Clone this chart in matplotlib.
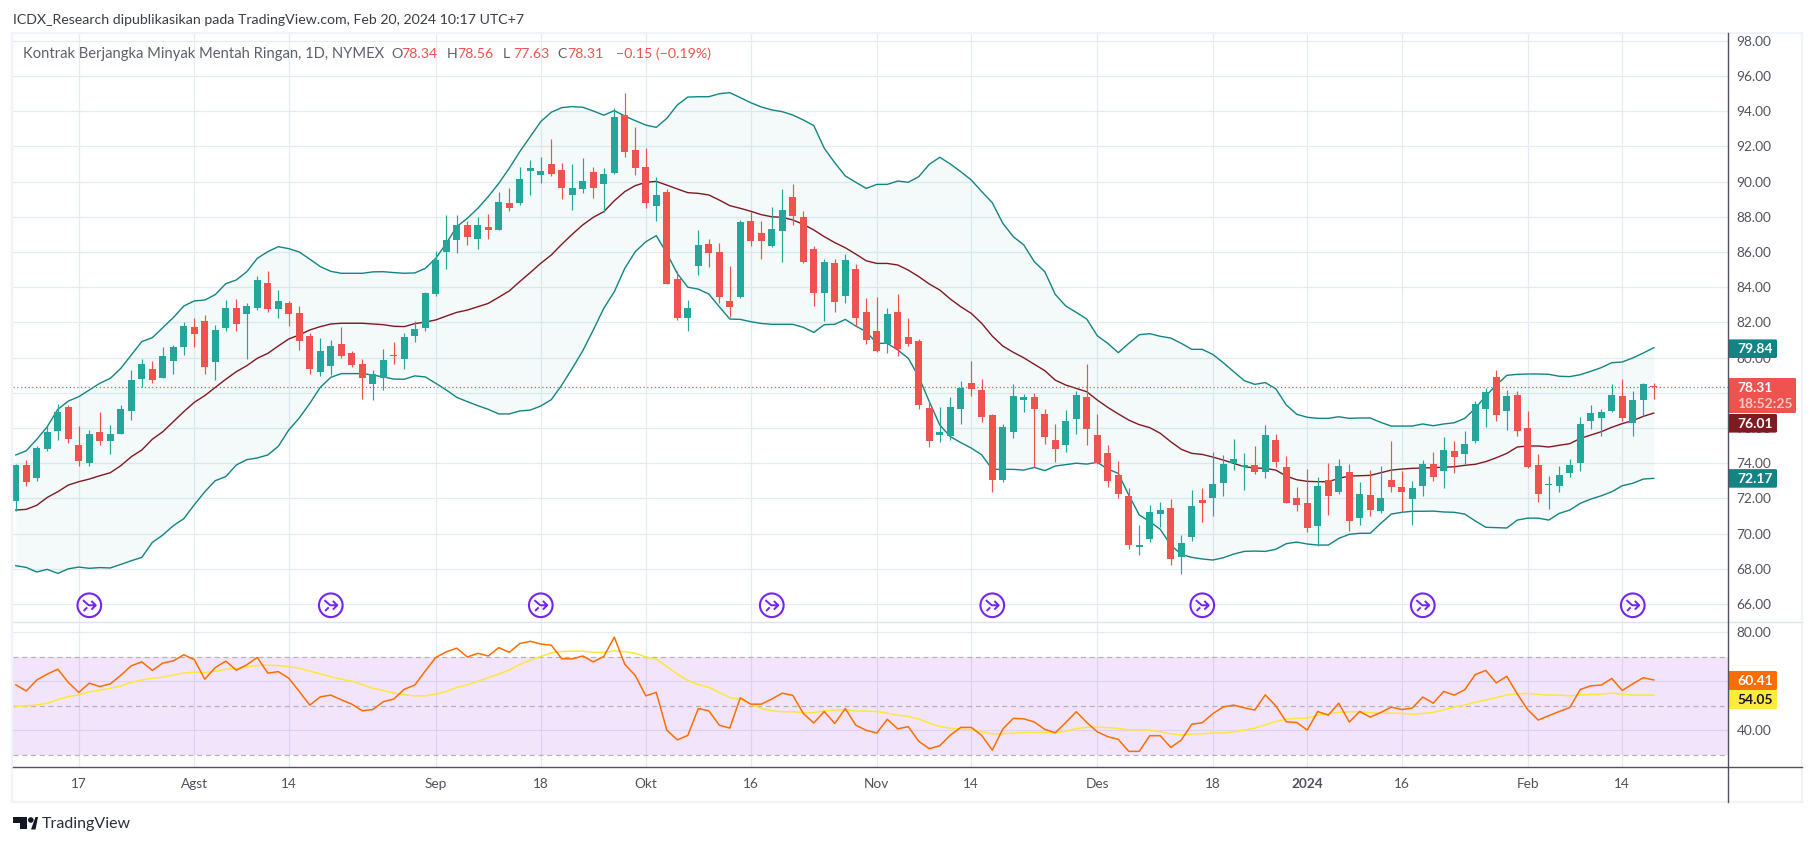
import matplotlib
matplotlib.use("Agg")
import matplotlib.pyplot as plt
from matplotlib.patches import Rectangle, FancyBboxPatch, Circle, Polygon
from matplotlib.path import Path

# ── data, one bar per trading day
opens = [71.87,73.90,73.18,74.81,75.85,77.19,75.03,74.03,75.77,75.26,
         75.66,76.97,78.79,79.35,78.84,79.81,80.60,81.74,82.08,79.75,
         81.68,82.82,82.48,82.82,84.24,82.76,83.10,82.54,81.23,79.18,
         79.52,80.77,80.26,79.64,78.50,78.84,80.15,79.92,81.23,81.68,
         83.62,86.00,86.68,87.54,86.74,87.42,87.25,88.79,88.79,90.60,
         90.38,91.00,90.66,89.24,89.58,90.55,89.87,90.49,93.78,91.79,
         90.83,88.61,89.41,84.46,82.25,85.20,86.45,86.00,83.21,83.44,
         87.76,87.08,86.34,87.19,89.12,87.99,86.17,83.67,85.37,83.50,
         85.03,82.59,81.51,80.77,82.59,81.17,80.94,77.14,75.60,75.55,
         77.08,78.56,78.16,76.74,73.05,75.77,77.59,77.76,76.80,75.32,
         75.03,76.51,77.76,75.60,74.58,73.33,72.14,69.24,69.69,71.11,
         71.45,68.67,69.81,71.91,72.02,72.88,74.01,73.78,73.90,73.50,
         75.32,73.78,72.02,71.74,70.43,73.05,72.36,73.50,70.86,72.19,
         71.28,73.05,72.65,71.97,72.70,73.95,73.56,74.69,74.52,75.26,
         77.08,78.90,76.97,77.87,76.00,73.90,72.76,72.70,73.44,74.01,
         76.40,76.57,76.97,77.82,76.28,77.59,78.34]
highs = [73.96,74.18,74.98,76.13,77.36,77.29,76.11,75.89,76.91,76.17,
         77.29,79.30,79.92,79.81,80.60,80.72,82.02,82.25,82.42,81.85,
         83.27,83.33,83.10,84.64,84.92,83.84,83.22,82.93,81.38,81.11,
         81.00,81.74,80.38,79.92,79.30,80.49,80.89,81.40,82.08,83.73,
         86.06,88.10,88.10,87.76,87.99,88.16,89.41,89.64,90.83,91.23,
         91.40,92.42,91.06,91.00,91.34,90.83,90.77,94.16,95.03,93.10,
         91.91,90.26,89.58,84.92,83.27,87.25,86.74,86.51,85.20,87.82,
         88.27,87.76,88.55,89.58,89.86,88.33,86.34,85.60,85.60,85.88,
         85.32,83.38,83.44,82.82,83.61,82.25,81.06,77.53,77.19,77.76,
         78.67,79.81,78.78,76.80,76.23,78.50,77.93,77.99,77.08,76.23,
         77.02,78.10,79.64,76.80,75.03,74.12,72.59,70.49,71.62,71.80,
         71.97,69.92,72.48,72.59,74.64,74.47,75.37,74.58,74.98,76.17,
         75.66,74.41,72.65,73.67,73.22,74.01,74.24,73.95,72.93,73.61,
         73.84,75.26,73.56,72.99,74.18,74.64,75.49,75.26,75.83,77.54,
         78.27,79.30,78.16,78.10,76.97,74.52,73.27,73.84,74.24,76.63,
         77.31,77.08,78.50,78.78,78.10,78.56,78.56]
lows = [71.28,72.72,73.01,74.69,75.32,75.15,73.86,73.86,75.03,74.52,
        75.66,76.46,78.33,78.58,78.84,79.07,80.15,80.60,79.07,78.73,
        81.51,81.51,79.92,82.71,82.59,82.25,81.80,80.43,79.07,78.96,
        79.01,79.98,79.47,77.65,77.59,78.16,79.64,79.35,80.89,81.51,
        83.50,85.04,85.95,86.40,86.17,86.74,87.25,88.33,88.67,89.24,
        89.92,90.32,89.01,88.39,89.35,89.07,88.27,90.43,91.39,90.37,
        88.50,87.76,84.18,82.13,81.51,84.69,85.15,83.10,82.30,83.38,
        86.34,85.60,86.28,85.43,87.53,85.37,82.93,82.08,82.59,83.10,
        81.79,80.77,80.32,80.26,80.09,80.66,77.08,74.92,75.20,75.32,
        76.23,77.82,76.34,72.36,72.93,75.43,76.91,73.78,75.09,74.07,
        74.64,75.66,75.03,73.95,72.65,72.02,69.12,68.78,69.52,70.37,
        68.22,67.70,69.58,70.66,71.00,72.14,73.61,72.48,73.39,73.16,
        73.78,71.74,71.28,70.09,69.30,71.06,72.25,70.15,70.49,71.00,
        71.17,72.36,71.23,70.49,72.14,72.99,72.59,73.44,73.95,75.15,
        76.06,76.40,75.89,75.55,73.73,71.80,71.40,72.36,73.22,73.56,
        75.94,75.55,76.91,76.40,75.55,76.68,77.63]
closes = [73.90,72.95,74.86,75.77,76.91,75.39,74.14,75.66,75.26,75.66,
          77.08,78.73,79.64,78.73,80.09,80.60,81.80,81.34,79.47,81.57,
          82.82,81.91,82.93,84.41,82.76,83.22,82.48,80.95,79.35,80.38,
          80.66,80.09,79.58,78.84,79.07,79.86,80.09,81.17,81.63,83.67,
          85.55,86.68,87.54,86.85,87.54,87.25,88.84,88.50,90.15,90.77,
          90.60,90.43,89.64,89.64,90.04,89.64,90.43,93.67,91.68,90.77,
          88.78,89.24,84.18,82.25,82.82,86.40,85.94,83.44,82.87,87.70,
          86.62,86.62,87.30,88.38,88.04,85.43,83.67,85.43,83.16,85.54,
          82.25,81.00,80.37,82.47,80.49,80.77,77.31,75.26,75.77,77.19,
          78.27,78.22,76.62,73.05,76.06,77.82,77.76,77.08,75.49,74.81,
          76.40,77.87,75.94,74.01,72.99,72.25,69.35,69.35,71.23,71.34,
          68.56,69.47,71.57,71.74,72.82,73.95,74.24,73.90,73.50,75.60,
          74.07,71.74,71.62,70.32,72.70,72.14,73.84,70.72,72.25,71.34,
          72.02,72.65,72.36,72.59,73.95,73.22,74.75,74.35,75.09,77.36,
          78.05,76.74,77.82,75.83,73.78,72.25,72.82,73.33,73.90,76.23,
          76.85,76.91,77.87,76.57,77.59,78.50,78.31]

bb_upper = [74.47,74.71,75.36,76.08,77.06,77.53,77.78,78.16,78.54,78.82,
            79.39,80.15,80.91,81.13,81.70,82.27,82.93,83.22,83.27,83.58,
            84.20,84.41,84.88,85.64,86.02,86.30,86.19,86.00,85.59,85.17,
            84.90,84.79,84.79,84.79,84.87,84.88,84.83,84.79,84.81,85.07,
            85.64,86.49,87.44,87.91,88.48,89.15,89.90,90.76,91.70,92.55,
            93.41,93.94,94.20,94.26,94.22,94.01,93.77,94.03,93.72,93.46,
            93.21,93.08,93.59,94.35,94.80,94.82,94.82,94.99,95.05,94.77,
            94.48,94.24,94.07,93.97,93.78,93.50,93.18,91.89,91.07,90.32,
            89.96,89.61,89.84,89.84,90.03,89.96,90.28,90.98,91.38,91.00,
            90.56,90.09,89.43,88.80,87.63,86.87,86.40,85.45,84.88,83.59,
            82.93,82.57,82.19,81.24,80.81,80.28,80.81,81.30,81.36,81.21,
            81.11,80.81,80.47,80.47,80.18,79.71,79.20,78.69,78.48,78.58,
            78.23,77.31,76.78,76.61,76.55,76.55,76.64,76.55,76.57,76.57,
            76.32,76.11,76.11,76.11,76.23,76.13,76.23,76.30,76.55,77.12,
            77.82,78.44,78.99,79.05,79.07,79.07,79.05,78.94,78.92,79.03,
            79.22,79.43,79.71,79.75,79.98,80.26,80.56]
bb_basis = [71.34,71.38,71.61,72.06,72.38,72.76,72.95,73.10,73.29,73.46,
            73.86,74.37,74.75,75.36,75.79,76.36,76.93,77.46,77.84,78.31,
            78.77,79.20,79.54,79.96,80.24,80.66,81.06,81.29,81.57,81.76,
            81.91,81.95,81.95,81.95,81.91,81.87,81.78,81.76,81.93,82.02,
            82.14,82.36,82.57,82.70,82.89,83.08,83.43,83.79,84.32,84.83,
            85.36,85.83,86.44,87.01,87.54,87.97,88.29,88.91,89.43,89.77,
            89.96,90.01,89.80,89.58,89.37,89.33,89.24,88.95,88.63,88.48,
            88.31,88.12,88.00,87.97,87.82,87.57,87.25,86.87,86.53,86.24,
            85.88,85.50,85.35,85.35,85.26,84.97,84.60,84.18,83.84,83.33,
            82.89,82.51,81.94,81.22,80.66,80.30,79.99,79.62,79.26,78.72,
            78.44,78.25,78.06,77.59,77.17,76.80,76.45,76.19,76.02,75.70,
            75.22,74.79,74.56,74.50,74.35,74.18,73.99,73.80,73.73,73.71,
            73.61,73.27,73.06,72.97,72.95,72.95,73.14,73.27,73.29,73.31,
            73.46,73.61,73.67,73.71,73.73,73.75,73.77,73.80,73.88,73.94,
            74.09,74.31,74.56,74.92,74.98,74.98,74.92,75.02,75.11,75.41,
            75.60,75.79,76.04,76.25,76.42,76.66,76.85]
bb_lower = [68.18,68.08,67.82,67.97,67.74,68.00,68.10,68.03,68.07,68.05,
            68.25,68.46,68.65,69.50,69.92,70.45,70.85,71.64,72.38,73.01,
            73.24,73.90,74.20,74.30,74.47,74.96,75.89,76.57,77.40,78.31,
            78.88,79.09,79.09,79.09,79.01,78.90,78.78,78.77,78.96,78.90,
            78.54,78.16,77.74,77.50,77.27,77.06,76.80,76.80,76.97,77.02,
            77.25,77.61,78.44,79.39,80.39,81.57,82.80,83.74,85.07,86.02,
            86.58,86.93,85.92,84.78,84.00,83.89,83.61,82.89,82.19,82.17,
            82.04,81.94,81.89,81.89,81.89,81.72,81.43,81.87,81.89,82.17,
            81.79,81.47,80.81,80.81,80.43,79.96,78.91,77.50,76.17,75.51,
            75.17,74.86,74.47,73.65,73.65,73.65,73.61,73.76,73.58,73.84,
            73.92,74.00,73.95,74.05,73.67,73.42,72.19,71.06,70.68,70.24,
            69.35,68.82,68.65,68.56,68.50,68.63,68.84,68.99,69.01,68.99,
            69.11,69.43,69.52,69.41,69.35,69.35,69.73,69.96,70.02,70.02,
            70.58,71.11,71.21,71.27,71.27,71.28,71.23,71.21,71.11,70.72,
            70.36,70.34,70.32,70.77,70.88,70.88,70.77,71.15,71.34,71.72,
            71.96,72.15,72.38,72.72,72.86,73.10,73.14]

rsi = [58.5,56.0,60.5,62.9,64.9,59.5,55.4,59.2,57.8,58.9,
       62.4,66.3,67.9,64.4,67.4,68.3,70.8,68.8,60.8,65.6,
       68.2,64.5,66.7,69.7,63.3,63.9,61.2,55.8,50.2,53.6,
       54.3,52.4,50.6,47.9,48.4,51.6,52.7,56.7,58.4,64.2,
       69.7,72.0,73.5,69.9,71.4,70.3,73.7,71.8,75.4,76.3,
       75.2,74.7,69.2,69.1,70.3,67.9,70.1,78.0,66.9,62.3,
       54.0,55.4,40.0,36.0,37.8,48.8,47.9,42.0,40.8,53.2,
       50.6,50.6,52.7,55.1,54.2,46.8,42.9,47.6,42.7,48.8,
       42.0,39.9,38.8,44.4,40.5,41.4,35.4,32.4,33.6,37.9,
       41.1,41.1,37.8,31.8,40.4,44.8,44.6,43.3,40.3,38.9,
       43.1,47.5,43.1,39.3,37.3,36.2,31.3,31.3,37.7,37.7,
       32.9,35.9,42.4,43.0,46.7,49.5,50.2,49.1,48.2,54.4,
       49.9,43.4,43.1,40.0,47.6,46.1,51.0,43.3,47.6,45.3,
       47.2,49.4,48.4,49.0,53.5,51.0,55.8,54.3,56.5,62.7,
       64.4,59.3,62.0,54.8,48.3,44.1,45.9,47.6,49.2,56.6,
       58.1,58.4,61.1,56.2,58.9,61.4,60.5]
rsi_ma = [49.7,49.9,50.3,51.0,52.4,53.7,54.4,55.6,56.3,57.1,
          58.0,59.6,60.5,61.2,61.6,62.6,63.3,63.7,63.5,64.1,
          64.8,65.2,65.9,66.4,66.5,66.4,65.9,65.3,64.1,63.0,
          61.8,60.8,60.0,58.6,57.1,56.2,55.1,54.4,54.0,54.0,
          54.7,55.8,57.4,58.5,60.0,61.4,62.9,64.6,66.8,68.6,
          70.1,71.6,72.1,72.3,72.3,71.8,71.8,72.4,72.1,71.4,
          69.9,69.0,66.0,62.9,60.3,58.6,57.5,55.4,53.3,52.5,
          50.5,48.8,47.9,47.5,47.5,47.1,47.1,47.9,48.2,48.3,
          47.8,47.8,47.6,46.9,46.1,45.6,44.5,42.9,41.5,40.7,
          40.4,40.1,39.3,38.4,38.5,38.8,39.0,39.0,39.0,38.9,
          39.5,40.6,41.1,41.2,41.0,40.7,40.1,40.1,40.0,39.3,
          38.5,38.0,38.4,38.5,38.8,38.8,39.3,40.0,40.8,42.2,
          43.5,44.5,44.8,44.9,46.1,46.7,47.3,47.5,47.5,47.1,
          46.9,46.9,46.8,46.5,46.8,47.2,48.3,49.4,50.2,51.4,
          52.3,53.3,54.4,54.8,55.0,54.6,54.3,54.3,54.0,54.4,
          54.6,54.7,55.1,54.7,54.3,54.3,54.3]

# time axis: bar index of each label
tick_bars = [6, 17, 26, 40, 50, 60, 70, 82, 91, 103, 114, 123, 132, 144, 153]
tick_labels = ["17", "Agst", "14", "Sep", "18", "Okt", "16", "Nov", "14", "Des", "18", "2024", "16", "Feb", "14"]
event_bars = [7, 30, 50, 72, 93, 113, 134, 154]
price_ticks = list(range(66, 100, 2))
rsi_ticks = [40, 60, 80]
rsi_bands = [70, 50, 30]
last_price = 78.31

# colours
UP = "#26A69A"
DOWN = "#EF5350"
BAND = "#138484"
BASIS = "#801922"
GRID = "#E4ECF2"
TEXT = "#50535E"
FONT = "Lato"

W, H = 1815, 846
fig = plt.figure(figsize=(W / 100, H / 100), dpi=100, facecolor="white")
plt.rcParams["font.family"] = FONT

X0, X1 = 13, 1728
Y_TOP, Y_SEP, Y_BOT = 33, 622, 767


def px_axes(x0, y0, x1, y1):
    return fig.add_axes([x0 / W, 1 - y1 / H, (x1 - x0) / W, (y1 - y0) / H])


ax = px_axes(X0, Y_TOP, X1, Y_SEP)
ax2 = px_axes(X0, Y_SEP, X1, Y_BOT)
xlim = (-0.267, 163.07)
ax.set_xlim(*xlim)
ax2.set_xlim(*xlim)
ax.set_ylim(64.98, 98.44)
ax2.set_ylim(24.9, 84.2)

for a in (ax, ax2):
    a.set_axisbelow(True)
    a.grid(True, color=GRID, linewidth=0.9)
    a.set_xticks(tick_bars)
    a.yaxis.tick_right()
    for s in a.spines.values():
        s.set_visible(False)
    a.tick_params(length=0)

# ── Price pane
ax.set_yticks(price_ticks)
ax.set_yticklabels([f"{p:.2f}" for p in price_ticks], fontsize=9.8, color=TEXT)
ax.tick_params(axis="y", pad=6)
ax.tick_params(axis="x", labelbottom=False)

bars = range(len(closes))
ax.fill_between(bars, bb_lower, bb_upper, color=UP, alpha=0.055, linewidth=0, zorder=1)
ax.plot(bars, bb_upper, color=BAND, linewidth=1.0, zorder=2)
ax.plot(bars, bb_lower, color=BAND, linewidth=1.0, zorder=2)
ax.plot(bars, bb_basis, color=BASIS, linewidth=1.0, zorder=2)
ax.axhline(last_price, color=DOWN, linewidth=0.9, linestyle=(0, (1, 2)), zorder=2)

colors = [UP if c >= o else DOWN for o, c in zip(opens, closes)]
ax.vlines(bars, lows, highs, colors=colors, linewidth=0.85, zorder=3)
body_low = [min(o, c) for o, c in zip(opens, closes)]
body_h = [max(abs(c - o), 0.05) for o, c in zip(opens, closes)]
ax.bar(bars, body_h, bottom=body_low, width=0.66, color=colors, linewidth=0, zorder=4)

# the purple event marks along the bottom of the pane
arrow_mark = Path(
    [(-0.62, 0.5), (-0.05, 0.0), (0.62, 0.0), (0.2, 0.42), (0.62, 0.0), (0.2, -0.42), (-0.55, -0.55), (-0.2, -0.2)],
    [Path.MOVETO, Path.LINETO, Path.LINETO, Path.MOVETO, Path.LINETO, Path.LINETO, Path.MOVETO, Path.LINETO],
)
event_y = [65.93] * len(event_bars)
ax.scatter(event_bars, event_y, s=290, facecolor="none", edgecolor="#7424F5", linewidth=1.5, zorder=5, clip_on=False)
ax.scatter(event_bars, event_y, s=85, marker=arrow_mark, facecolor="none", edgecolor="#7424F5", linewidth=1.4, zorder=5)

# ── RSI pane
ax2.axhspan(rsi_bands[2], rsi_bands[0], color=(135 / 255, 0, 225 / 255), alpha=0.1, linewidth=0, zorder=1)
for level in rsi_bands:
    ax2.axhline(level, color="#B5B1BA", linewidth=0.9, linestyle=(0, (4, 3)), zorder=2)
ax2.plot(bars, rsi_ma, color="#FFE63B", linewidth=1.1, zorder=3)
ax2.plot(bars, rsi, color="#FF6D00", linewidth=1.1, zorder=4)
ax2.set_yticks(rsi_ticks)
ax2.set_yticklabels([f"{r:.2f}" for r in rsi_ticks], fontsize=9.8, color=TEXT)
ax2.tick_params(axis="y", pad=6)
ax2.set_xticklabels(tick_labels, fontsize=9.8, color=TEXT)
ax2.tick_params(axis="x", pad=8)
ax2.get_xticklabels()[tick_labels.index("2024")].set_fontweight("bold")

# ── Overlay in pixels: frame, header, scale badges, logo
ov = fig.add_axes([0, 0, 1, 1], zorder=10)
ov.set_xlim(0, W)
ov.set_ylim(H, 0)
ov.axis("off")
ov.patch.set_alpha(0)

FRAME = "#F0F3FA"
ov.add_patch(Rectangle((12, Y_TOP), 1790, 769, fill=False, edgecolor=FRAME, linewidth=1.6))
ov.plot([13, 1802], [Y_SEP, Y_SEP], color="#E0E3EB", linewidth=1.0)
ov.plot([13, 1802], [Y_BOT, Y_BOT], color=TEXT, linewidth=1.0)
ov.plot([X1, X1], [Y_TOP, 802], color=TEXT, linewidth=1.0)

ov.text(13, 20, "ICDX_Research dipublikasikan pada TradingView.com, Feb 20, 2024 10:17 UTC+7",
        fontsize=10.2, color="#3A3D47", va="center", ha="left")
ov.text(23, 54, "Kontrak Berjangka Minyak Mentah Ringan, 1D, NYMEX",
        fontsize=10.6, color="#5D606B", va="center", ha="left")
legend_parts = [(391, "O", "78.34"), (447, "H", "78.56"), (503, "L", "77.63"), (557, "C", "78.31")]
for x, name, val in legend_parts:
    ov.text(x, 54, name, fontsize=10.2, color="#5D606B", va="center", ha="left")
    ov.text(x + 10, 54, val, fontsize=10.2, color=DOWN, va="center", ha="left")
ov.text(616, 54, "\u22120.15 (\u22120.19%)", fontsize=10.2, color=DOWN, va="center", ha="left")

# value badges on the scale, stacked the way the scale pushes them apart
badges = [("79.84", 348.7, BAND, "white"), ("76.01", 423.3, BASIS, "white"), ("72.17", 478.4, BAND, "white")]
for txt, yc, bg, fg in badges:
    ov.add_patch(FancyBboxPatch((X1, yc - 9.3), 49, 18.6, boxstyle="round,pad=0,rounding_size=1.5", facecolor=bg, edgecolor="none"))
    ov.text(X1 + 9, yc + 0.5, txt, fontsize=10, color=fg, va="center", ha="left", fontweight="bold")

ov.add_patch(FancyBboxPatch((X1, 378), 68, 35, boxstyle="round,pad=0,rounding_size=1.5", facecolor=DOWN, edgecolor="none"))
ov.text(X1 + 9, 388, "78.31", fontsize=10, color="white", va="center", ha="left", fontweight="bold")
ov.text(X1 + 9, 404, "18:52:25", fontsize=10, color="#FBC9C8", va="center", ha="left", fontweight="bold")

rsi_badges = [("60.41", "#FF6D00", "white", 680.5), ("54.05", "#FFEB3B", "#131722", 699.5)]
for txt, bg, fg, yc in rsi_badges:
    ov.add_patch(FancyBboxPatch((X1, yc - 9.5), 49, 19, boxstyle="round,pad=0,rounding_size=1.5", facecolor=bg, edgecolor="none"))
    ov.text(X1 + 9, yc + 0.5, txt, fontsize=10, color=fg, va="center", ha="left", fontweight="bold")

# TradingView logo
ov.add_patch(Polygon([(13, 817), (27.5, 817), (27.5, 829.5), (20.5, 829.5), (20.5, 823), (13, 823)], facecolor="#131722", edgecolor="none"))
ov.add_patch(Circle((30.8, 820), 2.8, facecolor="#131722", edgecolor="none"))
ov.add_patch(Polygon([(31, 829.5), (35.5, 817), (38, 817), (35.5, 829.5)], facecolor="#131722", edgecolor="none"))
ov.text(42, 824, "TradingView", fontsize=11.5, color="#2A2E39", va="center", ha="left")

fig.savefig("out.png", dpi=100)
